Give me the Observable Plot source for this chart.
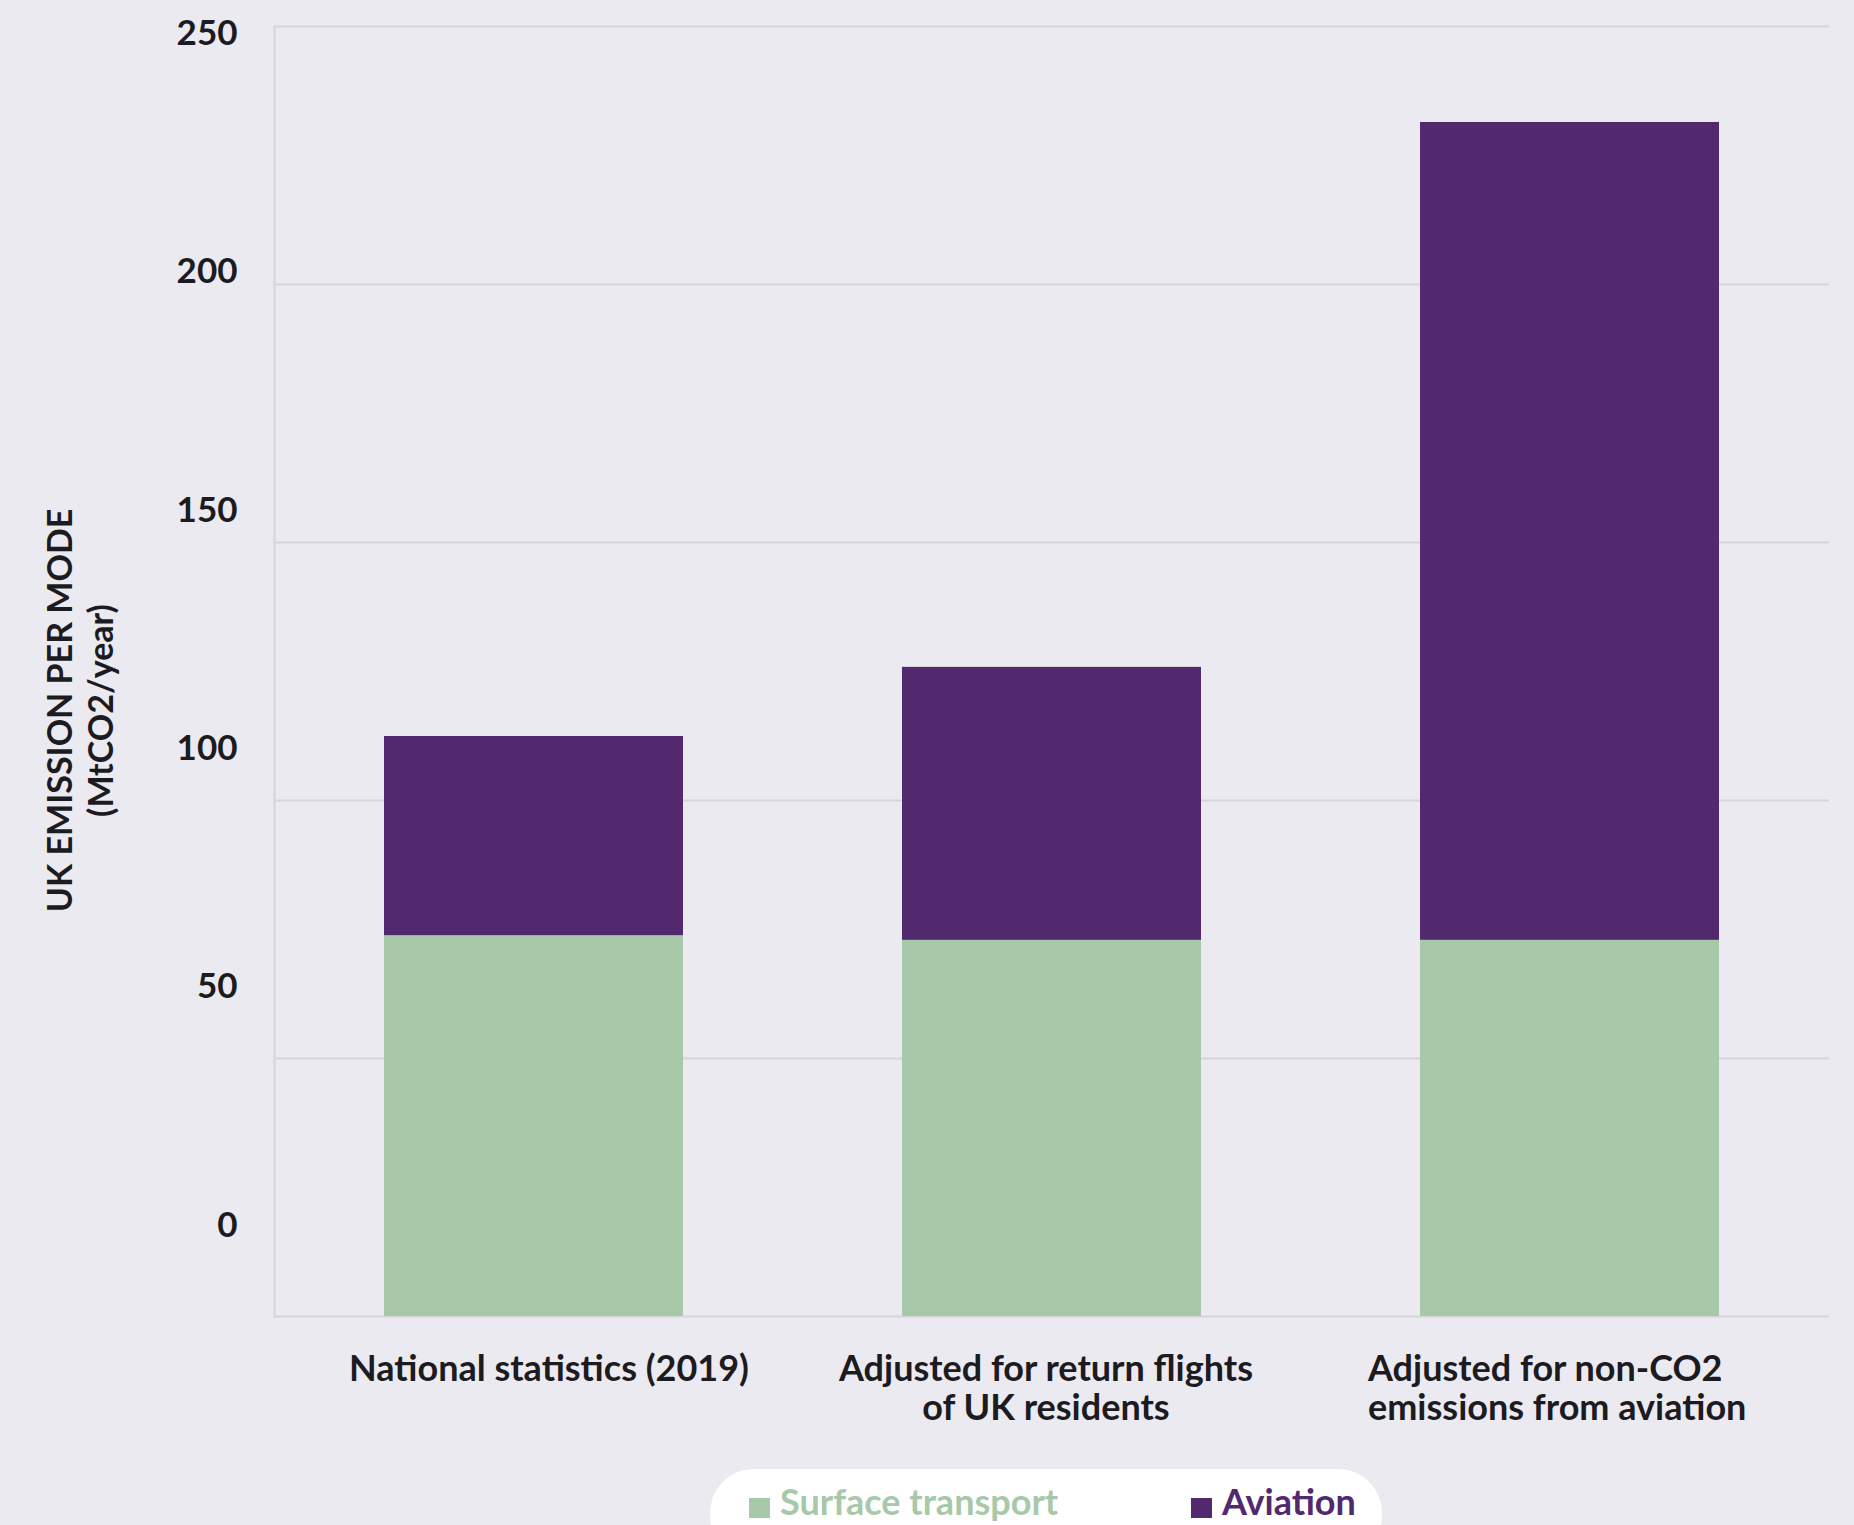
<!DOCTYPE html>
<html>
<head>
<meta charset="utf-8">
<script src="https://cdn.jsdelivr.net/npm/d3@7"></script>
<script src="https://cdn.jsdelivr.net/npm/@observablehq/plot@0.6"></script>
<style>
  html, body { margin: 0; padding: 0; background: #ECEAF1; }
  body { width: 1854px; height: 1525px; overflow: hidden; position: relative; font-family: Lato, "Open Sans", sans-serif; }
  #chart, #ticks { position: absolute; left: 0; top: 0; }
  #legend {
    position: absolute; left: 710px; top: 1469px; width: 672px; height: 90px;
    background: #ffffff; border-radius: 44px; box-sizing: border-box;
    font-weight: 700; font-size: 36px;
  }
  .item { position: absolute; top: 11px; display: flex; align-items: center; white-space: nowrap; line-height: 42px; }
  .sw { width: 21px; height: 20px; margin-right: 10px; margin-top: 14px; }
</style>
</head>
<body>
<div id="chart"></div>
<div id="ticks"></div>
<div id="legend"></div>
<script>
const categories = [
  "National statistics (2019)",
  "Adjusted for return flights\nof UK residents",
  "Adjusted for non-CO2\nemissions from aviation"
];
const modes = ["Surface transport", "Aviation"];
const surface = [73.8, 72.9, 72.9];
const aviation = [38.6, 52.9, 158.5];
const yTicks = [0, 50, 100, 150, 200, 250];
const yTitle = "UK EMISSION PER MODE\n(MtCO2/year)";
const colors = ["#A7C9A9", "#52296E"];

const rows = [];
categories.forEach((c, i) => {
  rows.push({category: c, mode: modes[0], value: surface[i]});
  rows.push({category: c, mode: modes[1], value: aviation[i]});
});

const W = 1854, H = 1440;
const font = "Lato, 'Open Sans', sans-serif";
const ink = "#1c1b1f";
const grid = "#D6D4DA";

const main = Plot.plot({
  width: W, height: H,
  marginLeft: 274, marginRight: 25, marginTop: 26, marginBottom: H - 1316,
  style: {background: "transparent", fontFamily: font, color: ink},
  x: {domain: categories, paddingInner: 0.423, paddingOuter: 0.2115, label: null},
  y: {domain: [0, 250], label: null},
  color: {domain: modes, range: colors},
  marks: [
    Plot.ruleY(yTicks, {stroke: grid, strokeWidth: 2}),
    Plot.frame({anchor: "left", stroke: grid, strokeWidth: 2}),
    Plot.barY(rows, {x: "category", y: "value", fill: "mode", order: modes}),
    Plot.axisY({ticks: [], label: null, tickSize: 0}),
    Plot.axisX({ticks: [categories[0]], tickSize: 0, tickPadding: 36, fontSize: 36, fontWeight: 700, fill: ink, lineHeight: 1.1, dx: 15, label: null}),
    Plot.axisX({ticks: [categories[1]], tickSize: 0, tickPadding: 36, fontSize: 36, fontWeight: 700, fill: ink, lineHeight: 1.1, dx: -6, label: null}),
    Plot.axisX({ticks: [categories[2]], tickSize: 0, tickPadding: 36, fontSize: 36, fontWeight: 700, fill: ink, lineHeight: 1.1, textAnchor: "start", dx: -202, label: null}),
    Plot.text([yTitle], {frameAnchor: "left", rotate: -90, dx: -195, dy: 39, fontSize: 34, fontWeight: 700, fill: ink, lineHeight: 1.2, textAnchor: "middle", lineAnchor: "middle"})
  ]
});
document.getElementById("chart").appendChild(main);

const tickPlot = Plot.plot({
  width: 280, height: H,
  marginLeft: 274, marginRight: 6, marginTop: 26, marginBottom: H - 1316,
  style: {background: "transparent", fontFamily: font, color: ink},
  y: {domain: [0, 250], range: [1225, 33], label: null},
  marks: [
    Plot.axisY({ticks: yTicks, tickSize: 0, tickPadding: 37, fontSize: 35, fontWeight: 700, fill: ink, label: null})
  ]
});
document.getElementById("ticks").appendChild(tickPlot);

const legend = document.getElementById("legend");
const lefts = [39, 481];
modes.forEach((m, i) => {
  const it = document.createElement("div");
  it.className = "item";
  it.style.left = lefts[i] + "px";
  it.style.color = colors[i];
  const sw = document.createElement("div");
  sw.className = "sw";
  sw.style.background = colors[i];
  const t = document.createElement("span");
  t.textContent = m;
  it.appendChild(sw); it.appendChild(t);
  legend.appendChild(it);
});
</script>
</body>
</html>
